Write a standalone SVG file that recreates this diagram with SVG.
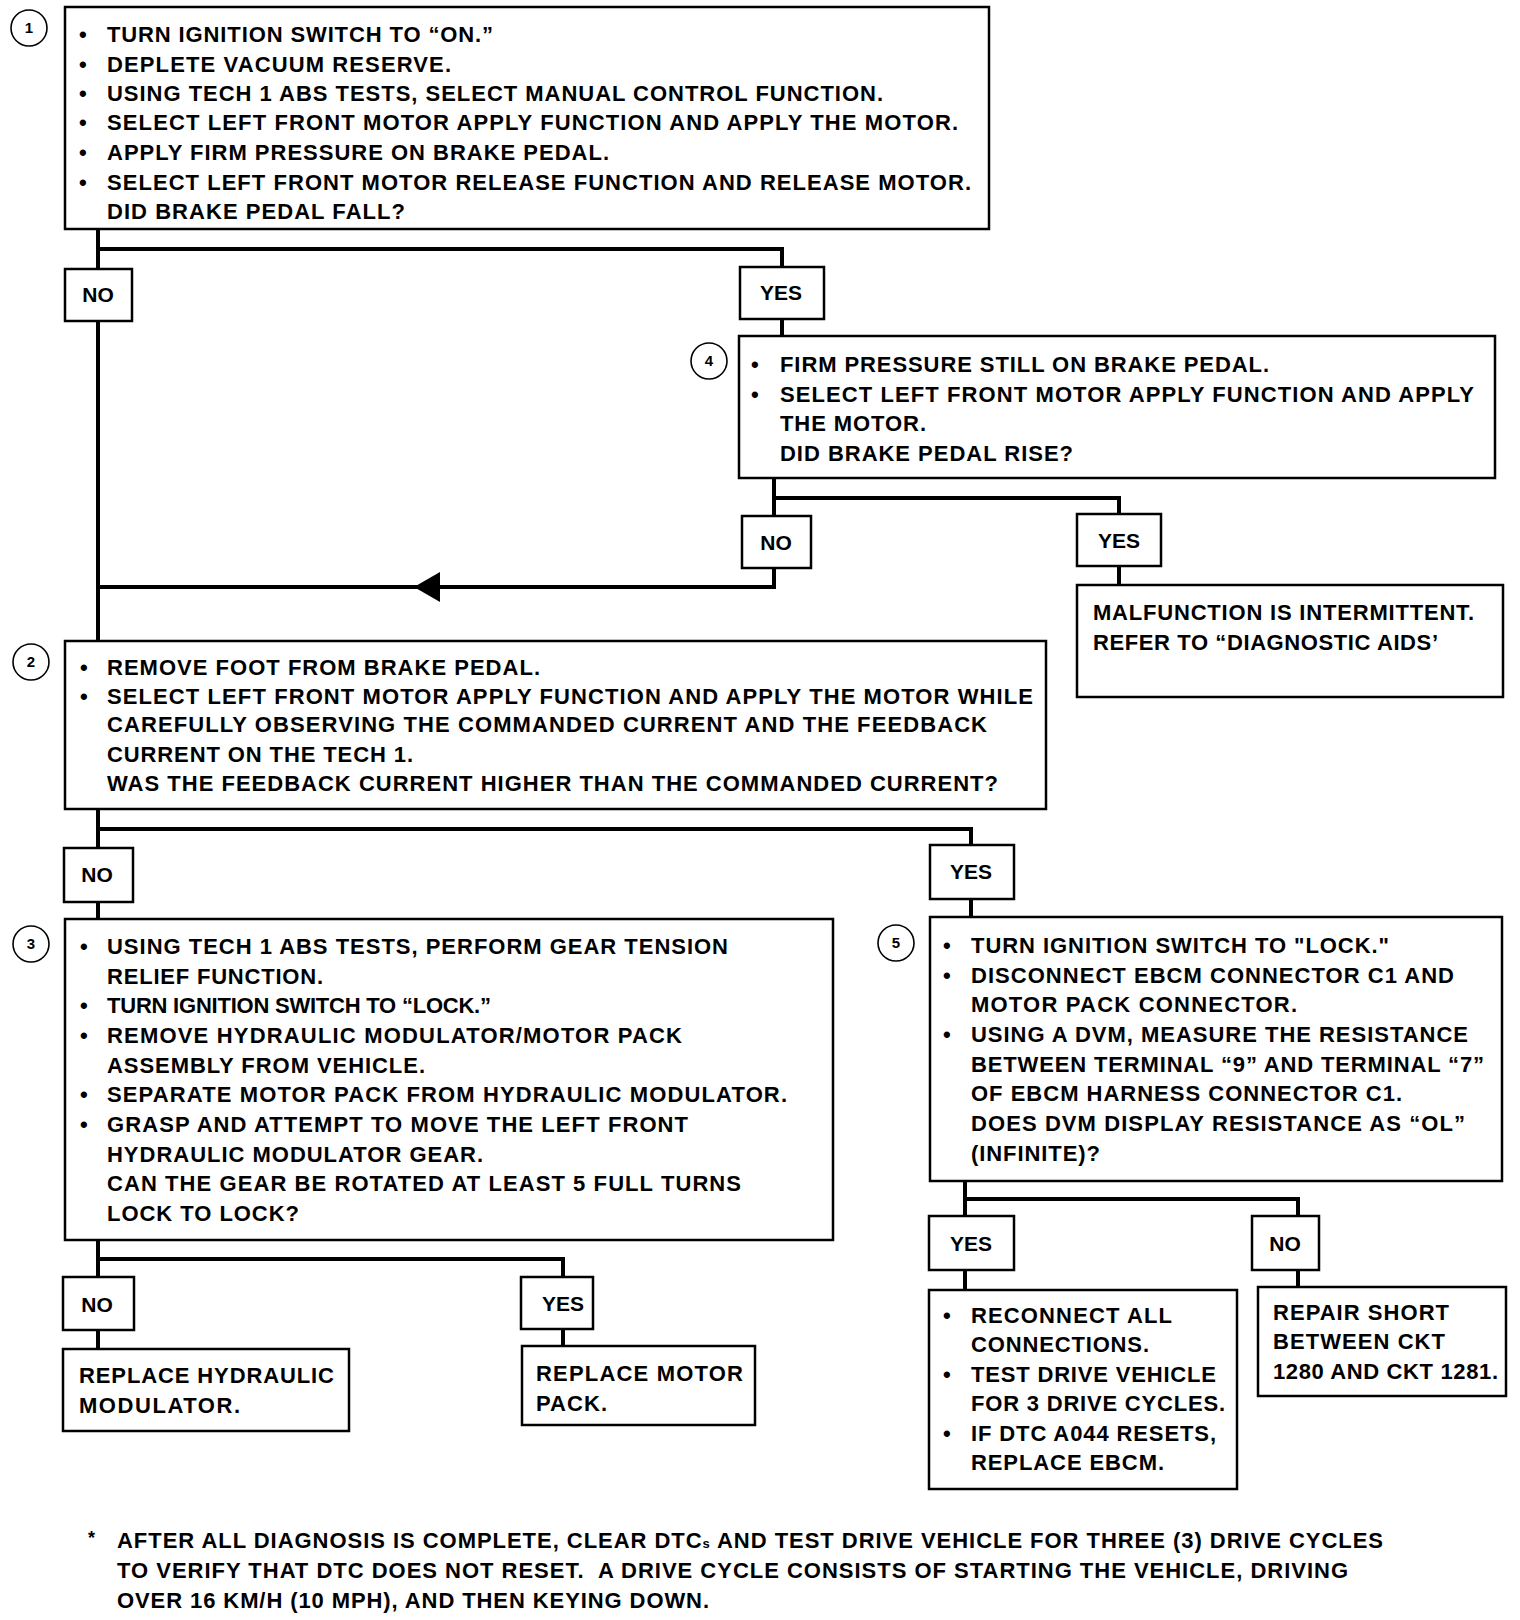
<svg xmlns="http://www.w3.org/2000/svg" width="1520" height="1620" viewBox="0 0 1520 1620">
<style>
text{font-family:"Liberation Sans",Arial,sans-serif;font-weight:bold;font-size:22px;fill:#000}
.box{fill:#fff;stroke:#000;stroke-width:2.5}
.lbl{fill:#fff;stroke:#000;stroke-width:2.5}
.c{fill:#fff;stroke:#000;stroke-width:1.6}
.n{font-size:15px;text-anchor:middle}
.m{text-anchor:middle;font-size:21px}
.con{fill:none;stroke:#000;stroke-width:4}
</style>
<rect width="1520" height="1620" fill="#fff"/>
<g id="connectors">
<path class="con" d="M98,229 V641"/>
<path class="con" d="M98,249 H782 V336"/>
<path class="con" d="M774,478 V587 H98"/>
<polygon points="414,587 440,572 440,602" fill="#000"/>
<path class="con" d="M774,498 H1119 V585"/>
<path class="con" d="M98,809 V919"/>
<path class="con" d="M98,829 H971 V917"/>
<path class="con" d="M98,1240 V1349"/>
<path class="con" d="M98,1259 H563 V1346"/>
<path class="con" d="M965,1181 V1290"/>
<path class="con" d="M965,1199 H1298 V1287"/>
</g>
<g id="step1">
<circle class="c" cx="29" cy="28" r="18"/><text class="n" x="29" y="33">1</text>
<rect class="box" x="65" y="7" width="924" height="222"/>
<text x="79" y="42">•</text><text x="107" y="42" textLength="386" lengthAdjust="spacing">TURN IGNITION SWITCH TO “ON.”</text>
<text x="79" y="72">•</text><text x="107" y="72" textLength="344" lengthAdjust="spacing">DEPLETE VACUUM RESERVE.</text>
<text x="79" y="101">•</text><text x="107" y="101" textLength="776" lengthAdjust="spacing">USING TECH 1 ABS TESTS, SELECT MANUAL CONTROL FUNCTION.</text>
<text x="79" y="130">•</text><text x="107" y="130" textLength="851" lengthAdjust="spacing">SELECT LEFT FRONT MOTOR APPLY FUNCTION AND APPLY THE MOTOR.</text>
<text x="79" y="160">•</text><text x="107" y="160" textLength="502" lengthAdjust="spacing">APPLY FIRM PRESSURE ON BRAKE PEDAL.</text>
<text x="79" y="190">•</text><text x="107" y="190" textLength="864" lengthAdjust="spacing">SELECT LEFT FRONT MOTOR RELEASE FUNCTION AND RELEASE MOTOR.</text>
<text x="107" y="219" textLength="298" lengthAdjust="spacing">DID BRAKE PEDAL FALL?</text>
</g>
<g id="no1"><rect class="lbl" x="65" y="269" width="67" height="52"/><text class="m" x="98" y="302">NO</text></g>
<g id="yes1"><rect class="lbl" x="740" y="267" width="84" height="52"/><text class="m" x="781" y="300">YES</text></g>
<g id="step4">
<circle class="c" cx="709" cy="361" r="18"/><text class="n" x="709" y="366">4</text>
<rect class="box" x="739" y="336" width="756" height="142"/>
<text x="751" y="372">•</text><text x="780" y="372" textLength="489" lengthAdjust="spacing">FIRM PRESSURE STILL ON BRAKE PEDAL.</text>
<text x="751" y="402">•</text><text x="780" y="402" textLength="694" lengthAdjust="spacing">SELECT LEFT FRONT MOTOR APPLY FUNCTION AND APPLY</text>
<text x="780" y="431" textLength="146" lengthAdjust="spacing">THE MOTOR.</text>
<text x="780" y="461" textLength="293" lengthAdjust="spacing">DID BRAKE PEDAL RISE?</text>
</g>
<g id="no4"><rect class="lbl" x="742" y="516" width="69" height="52"/><text class="m" x="776" y="550">NO</text></g>
<g id="yes4"><rect class="lbl" x="1077" y="514" width="84" height="52"/><text class="m" x="1119" y="548">YES</text></g>
<g id="intermittent">
<rect class="box" x="1077" y="585" width="426" height="112"/>
<text x="1093" y="620" textLength="381" lengthAdjust="spacing">MALFUNCTION IS INTERMITTENT.</text>
<text x="1093" y="650" textLength="345" lengthAdjust="spacing">REFER TO “DIAGNOSTIC AIDS’</text>
</g>
<g id="step2">
<circle class="c" cx="31" cy="662" r="18"/><text class="n" x="31" y="667">2</text>
<rect class="box" x="65" y="641" width="981" height="168"/>
<text x="80" y="675">•</text><text x="107" y="675" textLength="433" lengthAdjust="spacing">REMOVE FOOT FROM BRAKE PEDAL.</text>
<text x="80" y="704">•</text><text x="107" y="704" textLength="926" lengthAdjust="spacing">SELECT LEFT FRONT MOTOR APPLY FUNCTION AND APPLY THE MOTOR WHILE</text>
<text x="107" y="732" textLength="880" lengthAdjust="spacing">CAREFULLY OBSERVING THE COMMANDED CURRENT AND THE FEEDBACK</text>
<text x="107" y="762" textLength="306" lengthAdjust="spacing">CURRENT ON THE TECH 1.</text>
<text x="107" y="791" textLength="891" lengthAdjust="spacing">WAS THE FEEDBACK CURRENT HIGHER THAN THE COMMANDED CURRENT?</text>
</g>
<g id="no2"><rect class="lbl" x="64" y="848" width="69" height="54"/><text class="m" x="97" y="882">NO</text></g>
<g id="yes2"><rect class="lbl" x="930" y="845" width="84" height="54"/><text class="m" x="971" y="879">YES</text></g>
<g id="step3">
<circle class="c" cx="31" cy="944" r="18"/><text class="n" x="31" y="949">3</text>
<rect class="box" x="65" y="919" width="768" height="321"/>
<text x="80" y="954">•</text><text x="107" y="954" textLength="621" lengthAdjust="spacing">USING TECH 1 ABS TESTS, PERFORM GEAR TENSION</text>
<text x="107" y="984" textLength="216" lengthAdjust="spacing">RELIEF FUNCTION.</text>
<text x="80" y="1013">•</text><text x="107" y="1013" textLength="384" lengthAdjust="spacing">TURN IGNITION SWITCH TO “LOCK.”</text>
<text x="80" y="1043">•</text><text x="107" y="1043" textLength="575" lengthAdjust="spacing">REMOVE HYDRAULIC MODULATOR/MOTOR PACK</text>
<text x="107" y="1073" textLength="318" lengthAdjust="spacing">ASSEMBLY FROM VEHICLE.</text>
<text x="80" y="1102">•</text><text x="107" y="1102" textLength="680" lengthAdjust="spacing">SEPARATE MOTOR PACK FROM HYDRAULIC MODULATOR.</text>
<text x="80" y="1132">•</text><text x="107" y="1132" textLength="581" lengthAdjust="spacing">GRASP AND ATTEMPT TO MOVE THE LEFT FRONT</text>
<text x="107" y="1162" textLength="376" lengthAdjust="spacing">HYDRAULIC MODULATOR GEAR.</text>
<text x="107" y="1191" textLength="634" lengthAdjust="spacing">CAN THE GEAR BE ROTATED AT LEAST 5 FULL TURNS</text>
<text x="107" y="1221" textLength="192" lengthAdjust="spacing">LOCK TO LOCK?</text>
</g>
<g id="step5">
<circle class="c" cx="896" cy="943" r="18"/><text class="n" x="896" y="948">5</text>
<rect class="box" x="930" y="917" width="572" height="264"/>
<text x="943" y="953">•</text><text x="971" y="953" textLength="418" lengthAdjust="spacing">TURN IGNITION SWITCH TO "LOCK."</text>
<text x="943" y="983">•</text><text x="971" y="983" textLength="483" lengthAdjust="spacing">DISCONNECT EBCM CONNECTOR C1 AND</text>
<text x="971" y="1012" textLength="326" lengthAdjust="spacing">MOTOR PACK CONNECTOR.</text>
<text x="943" y="1042">•</text><text x="971" y="1042" textLength="497" lengthAdjust="spacing">USING A DVM, MEASURE THE RESISTANCE</text>
<text x="971" y="1072" textLength="513" lengthAdjust="spacing">BETWEEN TERMINAL “9” AND TERMINAL “7”</text>
<text x="971" y="1101" textLength="431" lengthAdjust="spacing">OF EBCM HARNESS CONNECTOR C1.</text>
<text x="971" y="1131" textLength="494" lengthAdjust="spacing">DOES DVM DISPLAY RESISTANCE AS “OL”</text>
<text x="971" y="1161" textLength="129" lengthAdjust="spacing">(INFINITE)?</text>
</g>
<g id="no3"><rect class="lbl" x="63" y="1277" width="71" height="53"/><text class="m" x="97" y="1312">NO</text></g>
<g id="yes3"><rect class="lbl" x="521" y="1277" width="72" height="52"/><text class="m" x="563" y="1311">YES</text></g>
<g id="replace-modulator">
<rect class="box" x="63" y="1349" width="286" height="82"/>
<text x="79" y="1383" textLength="255" lengthAdjust="spacing">REPLACE HYDRAULIC</text>
<text x="79" y="1413" textLength="161" lengthAdjust="spacing">MODULATOR.</text>
</g>
<g id="replace-motor">
<rect class="box" x="522" y="1346" width="233" height="79"/>
<text x="536" y="1381" textLength="207" lengthAdjust="spacing">REPLACE MOTOR</text>
<text x="536" y="1411" textLength="71" lengthAdjust="spacing">PACK.</text>
</g>
<g id="yes5"><rect class="lbl" x="929" y="1216" width="85" height="54"/><text class="m" x="971" y="1251">YES</text></g>
<g id="no5"><rect class="lbl" x="1252" y="1216" width="67" height="54"/><text class="m" x="1285" y="1251">NO</text></g>
<g id="reconnect">
<rect class="box" x="929" y="1290" width="308" height="199"/>
<text x="943" y="1323">•</text><text x="971" y="1323" textLength="201" lengthAdjust="spacing">RECONNECT ALL</text>
<text x="971" y="1352" textLength="178" lengthAdjust="spacing">CONNECTIONS.</text>
<text x="943" y="1382">•</text><text x="971" y="1382" textLength="245" lengthAdjust="spacing">TEST DRIVE VEHICLE</text>
<text x="971" y="1411" textLength="254" lengthAdjust="spacing">FOR 3 DRIVE CYCLES.</text>
<text x="943" y="1441">•</text><text x="971" y="1441" textLength="245" lengthAdjust="spacing">IF DTC A044 RESETS,</text>
<text x="971" y="1470" textLength="193" lengthAdjust="spacing">REPLACE EBCM.</text>
</g>
<g id="repair">
<rect class="box" x="1258" y="1287" width="248" height="109"/>
<text x="1273" y="1320" textLength="176" lengthAdjust="spacing">REPAIR SHORT</text>
<text x="1273" y="1349" textLength="172" lengthAdjust="spacing">BETWEEN CKT</text>
<text x="1273" y="1379" textLength="225" lengthAdjust="spacing">1280 AND CKT 1281.</text>
</g>
<g id="footnote">
<text x="88" y="1544" style="font-size:18px">*</text>
<text x="117" y="1548" textLength="1266" lengthAdjust="spacing">AFTER ALL DIAGNOSIS IS COMPLETE, CLEAR DTC<tspan style="font-size:13px">s</tspan> AND TEST DRIVE VEHICLE FOR THREE (3) DRIVE CYCLES</text>
<text x="117" y="1578" textLength="1231" lengthAdjust="spacing" xml:space="preserve">TO VERIFY THAT DTC DOES NOT RESET.  A DRIVE CYCLE CONSISTS OF STARTING THE VEHICLE, DRIVING</text>
<text x="117" y="1608" textLength="592" lengthAdjust="spacing">OVER 16 KM/H (10 MPH), AND THEN KEYING DOWN.</text>
</g>
</svg>
